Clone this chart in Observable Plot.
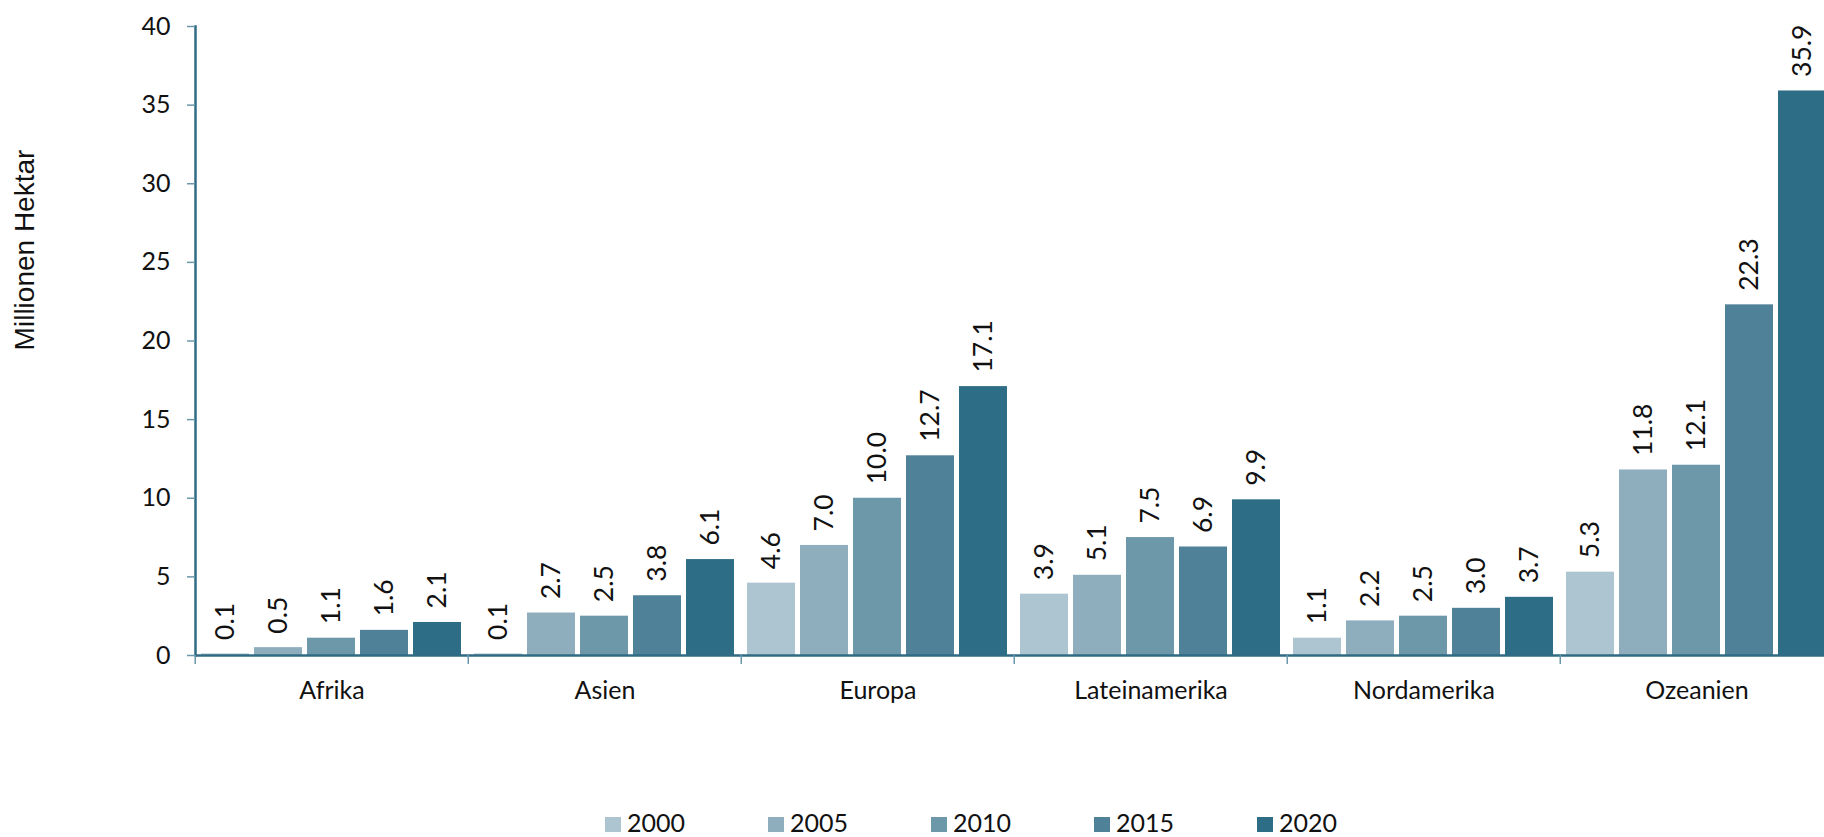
<!DOCTYPE html>
<html>
<head>
<meta charset="utf-8">
<script src="https://cdn.jsdelivr.net/npm/d3@7"></script>
<script src="https://cdn.jsdelivr.net/npm/@observablehq/plot@0.6"></script>
<style>
  html, body { margin: 0; padding: 0; background: #fff; overflow: hidden; width: 1824px; height: 837px; }
  #chart { position: absolute; left: 0; top: 0; width: 1834px; }
  #chart svg { max-width: none !important; }
  #ytitle { position: absolute; left: 25px; top: 250px; transform: translate(-50%, -50%) rotate(-90deg);
            font-family: "Liberation Sans", Arial, sans-serif; font-size: 28px; white-space: nowrap; color: #111; }
  #legend { position: absolute; left: 605px; top: 808px; font-family: Lato, sans-serif; font-size: 25px;
            line-height: 28px; color: #111; white-space: nowrap; }
  .item { display: inline-block; width: 163px; }
  .sw { display: inline-block; width: 16px; height: 15px; margin-right: 6px; vertical-align: baseline; }
</style>
</head>
<body>
<div id="chart"></div>
<div id="ytitle"></div>
<div id="legend"></div>
<script>
// ---- data ----
const regions = ["Afrika", "Asien", "Europa", "Lateinamerika", "Nordamerika", "Ozeanien"];
const years = ["2000", "2005", "2010", "2015", "2020"];
const v2000 = [0.1, 0.1, 4.6, 3.9, 1.1, 5.3];
const v2005 = [0.5, 2.7, 7.0, 5.1, 2.2, 11.8];
const v2010 = [1.1, 2.5, 10.0, 7.5, 2.5, 12.1];
const v2015 = [1.6, 3.8, 12.7, 6.9, 3.0, 22.3];
const v2020 = [2.1, 6.1, 17.1, 9.9, 3.7, 35.9];
const yTicks = [0, 5, 10, 15, 20, 25, 30, 35, 40];
const colors = ["#adc5d1", "#8eaebe", "#6d98aa", "#4f8299", "#2e6d86"];
const yTitle = "Millionen Hektar";

// ---- build table ----
const series = [v2000, v2005, v2010, v2015, v2020];
const data = [];
regions.forEach((r, i) => years.forEach((y, j) => data.push({region: r, year: y, value: series[j][i]})));

const W = 1834, ML = 193, MR = 0;
const facetW = (W - ML - MR) / regions.length;
const axisColor = "#2f6b84";
const tickColor = "#6b97aa";

document.getElementById("ytitle").textContent = yTitle;

const chart = Plot.plot({
  width: W, height: 760,
  marginLeft: ML, marginRight: MR, marginTop: 26, marginBottom: 105,
  style: {fontFamily: "Lato, sans-serif", fontSize: "25px", color: "#111", background: "#fff", maxWidth: "none"},
  fx: {domain: regions, padding: 0, axis: null, label: null},
  x: {domain: years, paddingInner: 0.093, paddingOuter: 0.078, axis: null},
  y: {domain: [0, 40], axis: null},
  color: {domain: years, range: colors},
  marks: [
    Plot.barY(data, {fx: "region", x: "year", y: "value", fill: "year"}),
    Plot.text(data, {fx: "region", x: "year", y: "value", text: d => d.value.toFixed(1),
      rotate: -90, textAnchor: "start", dy: -14, fontSize: 26.5, fill: "#111"}),
    Plot.ruleY([0], {stroke: axisColor, strokeWidth: 2.5}),
    Plot.frame({anchor: "left", facetAnchor: "left", stroke: axisColor, strokeWidth: 2.5}),
    Plot.axisY({ticks: yTicks, text: null, tickSize: 8, stroke: tickColor, strokeWidth: 1.5, label: null}),
    Plot.axisY({ticks: yTicks, tickSize: 0, tickPadding: 25, label: null, fill: "#111", fontSize: 25}),
    Plot.axisFx({anchor: "bottom", tickSize: 0, tickPadding: 26, label: null, fill: "#111", fontSize: 25}),
    Plot.axisFx({anchor: "bottom", text: null, tickSize: 9, label: null, stroke: tickColor, strokeWidth: 1.5, dx: -facetW / 2})
  ]
});
document.getElementById("chart").appendChild(chart);

const legend = document.getElementById("legend");
years.forEach((y, i) => {
  const item = document.createElement("span");
  item.className = "item";
  const sw = document.createElement("span");
  sw.className = "sw";
  sw.style.background = colors[i];
  item.appendChild(sw);
  item.appendChild(document.createTextNode(y));
  legend.appendChild(item);
});
</script>
</body>
</html>
